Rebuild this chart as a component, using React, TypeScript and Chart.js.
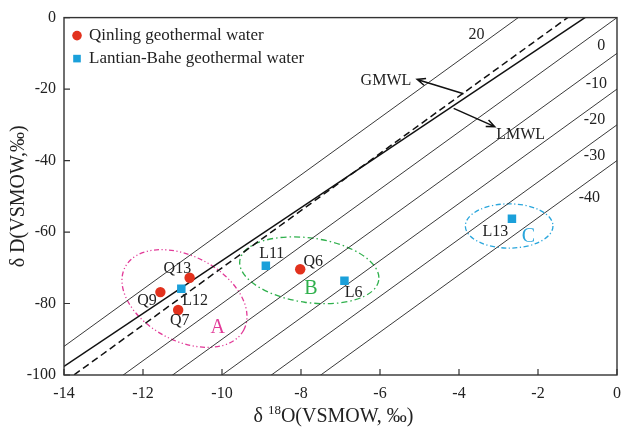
import React, { useEffect, useRef } from "react";
import { Chart, registerables } from "chart.js";
Chart.register(...registerables);

const FONT = "'Liberation Serif', 'Times New Roman', serif";

// Axis ticks
const xTicks = [-14, -12, -10, -8, -6, -4, -2, 0];
const yTicks = [-100, -80, -60, -40, -20, 0];

// Qinling geothermal water samples
const qinlingNames = ["Q13", "Q9", "Q7", "Q6"];
const qinlingO18 = [-10.82, -11.56, -11.11, -8.02];
const qinlingD = [-72.8, -76.8, -81.8, -70.4];

// Lantian-Bahe geothermal water samples
const lantianNames = ["L12", "L11", "L6", "L13"];
const lantianO18 = [-11.03, -8.89, -6.9, -2.66];
const lantianD = [-75.9, -69.4, -73.6, -56.3];

// Deuterium-excess reference lines (δD = 8·δ18O + d)
const dExcessValues = [20, 0, -10, -20, -30, -40];
// Meteoric water lines
const gmwlSlope = 8;
const gmwlIntercept = 10;
const lmwlSlope = 7.4;
const lmwlIntercept = 6;
const lineXRange = [-16, 2];

// Annotations (data coordinates)
const pointLabels = [
  { t: "Q13", x: -11.13, y: -70.25 },
  { t: "Q9", x: -11.9, y: -79.1 },
  { t: "L12", x: -10.68, y: -79.1 },
  { t: "Q7", x: -11.07, y: -84.8 },
  { t: "L11", x: -8.74, y: -66.1 },
  { t: "Q6", x: -7.69, y: -68.4 },
  { t: "L6", x: -6.67, y: -77.0 },
  { t: "L13", x: -3.08, y: -59.9 },
];
const dLabels = [
  { t: "20", x: -3.56, y: -4.7 },
  { t: "0", x: -0.4, y: -8.0 },
  { t: "-10", x: -0.52, y: -18.5 },
  { t: "-20", x: -0.57, y: -28.5 },
  { t: "-30", x: -0.57, y: -38.7 },
  { t: "-40", x: -0.7, y: -50.3 },
];
const groups = [
  { t: "A", x: -10.11, y: -86.7, cx: -10.95, cy: -78.6, a: 1.7, b: 1.07, rot: 28, color: "#e23a98", dash: [5, 2.5, 1.2, 2.5, 1.2, 2.5] },
  { t: "B", x: -7.75, y: -76.0, cx: -7.79, cy: -70.7, a: 1.776, b: 0.817, rot: 8, color: "#2fb04c", dash: [6, 3, 1.5, 3] },
  { t: "C", x: -2.24, y: -61.3, cx: -2.73, cy: -58.3, a: 1.109, b: 0.56, rot: 0, color: "#2aa6dc", dash: [5, 2.5, 1.2, 2.5] },
];
const arrows = [
  { label: "GMWL", from: [-3.885, -21.3], to: [-5.06, -17.3], lx: -5.85, ly: -17.6 },
  { label: "LMWL", from: [-4.135, -25.4], to: [-3.096, -30.5], lx: -2.44, ly: -32.8 },
];

const RED = "#e2311d";
const BLUE = "#1ba0da";

function linePoints(slope: number, intercept: number) {
  return lineXRange.map((x) => ({ x, y: slope * x + intercept }));
}

const overlay = {
  id: "overlay",
  beforeDatasetsDraw(chart: any) {
    const { ctx, scales } = chart;
    const x = scales.x, y = scales.y;
    const unit = x.getPixelForValue(1) - x.getPixelForValue(0);
    ctx.save();
    for (const g of groups) {
      ctx.beginPath();
      ctx.ellipse(x.getPixelForValue(g.cx), y.getPixelForValue(g.cy), g.a * unit, g.b * unit, (g.rot * Math.PI) / 180, 0, Math.PI * 2);
      ctx.setLineDash(g.dash);
      ctx.strokeStyle = g.color;
      ctx.lineWidth = 1.3;
      ctx.stroke();
    }
    ctx.restore();
  },
  afterDatasetsDraw(chart: any) {
    const { ctx, chartArea: ca, scales } = chart;
    const x = scales.x, y = scales.y;
    const px = (v: number) => x.getPixelForValue(v);
    const py = (v: number) => y.getPixelForValue(v);
    ctx.save();
    ctx.setLineDash([]);
    // frame
    ctx.strokeStyle = "#333";
    ctx.lineWidth = 1.4;
    ctx.strokeRect(ca.left, ca.top, ca.right - ca.left, ca.bottom - ca.top);
    // inward ticks
    ctx.lineWidth = 1.2;
    ctx.beginPath();
    for (const v of xTicks) {
      ctx.moveTo(px(v), ca.bottom);
      ctx.lineTo(px(v), ca.bottom - 6);
    }
    for (const v of yTicks) {
      ctx.moveTo(ca.left, py(v));
      ctx.lineTo(ca.left + 6, py(v));
    }
    ctx.stroke();

    ctx.fillStyle = "#222";
    ctx.textAlign = "center";
    ctx.textBaseline = "middle";
    ctx.font = `16px ${FONT}`;
    for (const l of pointLabels) ctx.fillText(l.t, px(l.x), py(l.y));
    for (const l of dLabels) ctx.fillText(l.t, px(l.x), py(l.y));

    // group labels
    ctx.font = `20px ${FONT}`;
    for (const g of groups) {
      ctx.fillStyle = g.color;
      ctx.fillText(g.t, px(g.x), py(g.y));
    }

    // arrows
    ctx.strokeStyle = "#111";
    ctx.fillStyle = "#222";
    ctx.lineWidth = 1.5;
    ctx.font = `16px ${FONT}`;
    for (const a of arrows) {
      const x0 = px(a.from[0]), y0 = py(a.from[1]);
      const x1 = px(a.to[0]), y1 = py(a.to[1]);
      const ang = Math.atan2(y1 - y0, x1 - x0);
      ctx.beginPath();
      ctx.moveTo(x0, y0);
      ctx.lineTo(x1, y1);
      const h = 9;
      ctx.moveTo(x1 - h * Math.cos(ang - 0.4), y1 - h * Math.sin(ang - 0.4));
      ctx.lineTo(x1, y1);
      ctx.lineTo(x1 - h * Math.cos(ang + 0.4), y1 - h * Math.sin(ang + 0.4));
      ctx.stroke();
      ctx.fillText(a.label, px(a.lx), py(a.ly));
    }

    // legend
    ctx.textAlign = "left";
    ctx.font = `17px ${FONT}`;
    const lx = ca.left + 13;
    ctx.fillStyle = RED;
    ctx.beginPath();
    ctx.arc(lx, ca.top + 18, 4.8, 0, Math.PI * 2);
    ctx.fill();
    ctx.fillStyle = BLUE;
    ctx.fillRect(lx - 3.8, ca.top + 41 - 3.8, 7.6, 7.6);
    ctx.fillStyle = "#222";
    ctx.fillText("Qinling geothermal water", lx + 12, ca.top + 18);
    ctx.fillText("Lantian-Bahe geothermal water", lx + 12, ca.top + 41);

    // axis titles
    ctx.font = `20px ${FONT}`;
    const p1 = "δ ";
    const p3 = "O(VSMOW, ‰)";
    const w1 = ctx.measureText(p1).width;
    const w3 = ctx.measureText(p3).width;
    ctx.font = `13px ${FONT}`;
    const w2 = ctx.measureText("18").width;
    const total = w1 + w2 + w3;
    let sx = (ca.left + ca.right) / 2 - 7 - total / 2;
    const by = 417;
    ctx.font = `20px ${FONT}`;
    ctx.fillText(p1, sx, by);
    ctx.font = `13px ${FONT}`;
    ctx.fillText("18", sx + w1, by - 6);
    ctx.font = `20px ${FONT}`;
    ctx.fillText(p3, sx + w1 + w2, by);

    ctx.save();
    ctx.translate(19, (ca.top + ca.bottom) / 2);
    ctx.rotate(-Math.PI / 2);
    ctx.textAlign = "center";
    ctx.fillText("δ D(VSMOW,‰)", 0, 0);
    ctx.restore();

    ctx.restore();
  },
};

export default function App() {
  const ref = useRef<HTMLCanvasElement | null>(null);
  useEffect(() => {
    if (!ref.current) return;
    const thin = dExcessValues.map((d) => ({
      type: "line" as const,
      data: linePoints(8, d),
      borderColor: "#222",
      borderWidth: 0.9,
      pointRadius: 0,
      showLine: true,
      order: 2,
    }));
    const chart = new Chart(ref.current, {
      type: "scatter",
      data: {
        datasets: [
          {
            label: "Qinling geothermal water",
            data: qinlingO18.map((v, i) => ({ x: v, y: qinlingD[i], name: qinlingNames[i] })),
            backgroundColor: RED,
            borderWidth: 0,
            pointRadius: 5.2,
            pointStyle: "circle",
            order: 0,
          },
          {
            label: "Lantian-Bahe geothermal water",
            data: lantianO18.map((v, i) => ({ x: v, y: lantianD[i], name: lantianNames[i] })),
            backgroundColor: BLUE,
            borderWidth: 0,
            pointRadius: 6,
            pointStyle: "rect",
            order: 0,
          },
          {
            type: "line",
            label: "GMWL",
            data: linePoints(gmwlSlope, gmwlIntercept),
            borderColor: "#111",
            borderWidth: 1.5,
            borderDash: [7, 4],
            pointRadius: 0,
            showLine: true,
            order: 1,
          },
          {
            type: "line",
            label: "LMWL",
            data: linePoints(lmwlSlope, lmwlIntercept),
            borderColor: "#111",
            borderWidth: 1.5,
            pointRadius: 0,
            showLine: true,
            order: 1,
          },
          ...thin,
        ] as any,
      },
      options: {
        animation: false,
        responsive: false,
        layout: { padding: { top: 13, right: 4, left: 0, bottom: 0 } },
        plugins: { legend: { display: false }, tooltip: { enabled: false } },
        scales: {
          x: {
            type: "linear",
            min: -14,
            max: 0,
            afterFit: (s: any) => { s.height = 55; },
            afterBuildTicks: (s: any) => { s.ticks = xTicks.map((v) => ({ value: v })); },
            grid: { display: false, drawTicks: false },
            border: { display: false },
            ticks: { color: "#222", font: { family: FONT, size: 16 }, padding: 9, maxRotation: 0, autoSkip: false },
          },
          y: {
            type: "linear",
            min: -100,
            max: 0,
            afterFit: (s: any) => { s.width = 64; },
            afterBuildTicks: (s: any) => { s.ticks = yTicks.map((v) => ({ value: v })); },
            grid: { display: false, drawTicks: false },
            border: { display: false },
            ticks: { color: "#222", font: { family: FONT, size: 16 }, padding: 8, autoSkip: false },
          },
        },
      },
      plugins: [overlay],
    });
    return () => chart.destroy();
  }, []);
  return (
    <div style={{ position: "fixed", left: 0, top: 0, width: 630, height: 430, background: "#fff" }}>
      <canvas ref={ref} width={630} height={430} style={{ width: 630, height: 430 }} />
    </div>
  );
}
